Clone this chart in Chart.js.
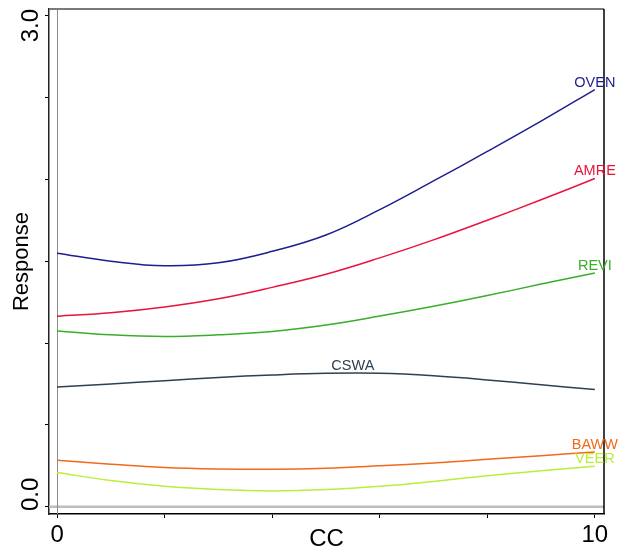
<!DOCTYPE html>
<html lang="en">
<head>
    <meta charset="UTF-8">
    <title>Response vs CC</title>
    <script src="https://cdn.jsdelivr.net/npm/chart.js"></script>
    <style>
        body { margin: 0; background: #fff; }
        #wrap { width: 623px; height: 550px; }
    </style>
</head>
<body>
    <div id="wrap"><canvas id="respChart" width="623" height="550"></canvas></div>
    <script>
        // CC values where each curve was read
        const ccValues = [0, 1, 2, 3, 4, 5, 6, 7, 8, 9, 10];

        // fitted response per species
        const oven = [1.548, 1.50, 1.472, 1.49, 1.56, 1.66, 1.815, 1.99, 2.17, 2.355, 2.548];
        const amre = [1.164, 1.185, 1.22, 1.27, 1.34, 1.42, 1.52, 1.63, 1.75, 1.875, 2.005];
        const revi = [1.074, 1.05, 1.04, 1.05, 1.07, 1.11, 1.165, 1.225, 1.29, 1.36, 1.428];
        const cswa = [0.732, 0.75, 0.77, 0.79, 0.805, 0.815, 0.815, 0.80, 0.775, 0.745, 0.716];
        const baww = [0.284, 0.26, 0.24, 0.231, 0.229, 0.235, 0.25, 0.268, 0.29, 0.312, 0.335];
        const veer = [0.209, 0.16, 0.125, 0.105, 0.097, 0.105, 0.125, 0.155, 0.19, 0.22, 0.247];

        const speciesNames = ['OVEN', 'AMRE', 'REVI', 'CSWA', 'BAWW', 'VEER'];
        const labelAtCC = [10, 10, 10, 5.5, 10, 10];

        // tick positions and the labels that are shown
        const xTicks = [0, 2, 4, 6, 8, 10];
        const xTickLabels = { 0: '0', 10: '10' };
        const yTicks = [0, 0.5, 1, 1.5, 2, 2.5, 3];
        const yTickLabels = { 0: '0.0', 3: '3.0' };

        const colors = ['#1e1e8e', '#e8143c', '#3aad2a', '#2f4050', '#f06a1c', '#b9ee3a'];
        const allSeries = [oven, amre, revi, cswa, baww, veer];

        const FONT = "'Liberation Sans', Arial, sans-serif";

        function interp(xs, ys, x) {
            for (let i = 0; i < xs.length - 1; i++) {
                if (x >= xs[i] && x <= xs[i + 1]) {
                    const t = (x - xs[i]) / (xs[i + 1] - xs[i]);
                    return ys[i] + t * (ys[i + 1] - ys[i]);
                }
            }
            return ys[ys.length - 1];
        }

        // reference lines, frame, y tick labels and curve names
        const decorPlugin = {
            id: 'decor',
            beforeDatasetsDraw(chart) {
                const { ctx, chartArea: a, scales: { x, y } } = chart;
                ctx.save();
                ctx.strokeStyle = '#bdbdbd';
                ctx.lineWidth = 2.5;
                ctx.beginPath();
                ctx.moveTo(a.left, y.getPixelForValue(0));
                ctx.lineTo(a.right, y.getPixelForValue(0));
                ctx.stroke();
                const x0 = Math.round(x.getPixelForValue(0)) + 0.5;
                ctx.strokeStyle = '#8c8c8c';
                ctx.lineWidth = 1;
                ctx.beginPath();
                ctx.moveTo(x0, a.top);
                ctx.lineTo(x0, a.bottom);
                ctx.stroke();
                ctx.restore();
            },
            afterDraw(chart) {
                const { ctx, chartArea: a, scales: { x, y } } = chart;
                ctx.save();
                // top and right frame
                ctx.strokeStyle = '#7a7a7a';
                ctx.lineWidth = 2;
                ctx.beginPath();
                ctx.moveTo(a.left, a.top);
                ctx.lineTo(a.right, a.top);
                ctx.stroke();
                ctx.strokeStyle = '#000';
                ctx.lineWidth = 1.5;
                ctx.beginPath();
                ctx.moveTo(a.right, a.top);
                ctx.lineTo(a.right, a.bottom);
                ctx.stroke();

                // rotated y tick labels, kept inside the plot height
                ctx.font = '24px ' + FONT;
                ctx.fillStyle = '#000';
                ctx.textAlign = 'center';
                ctx.textBaseline = 'middle';
                Object.keys(yTickLabels).forEach(v => {
                    const txt = yTickLabels[v];
                    const half = ctx.measureText(txt).width / 2;
                    let cy = y.getPixelForValue(Number(v));
                    cy = Math.min(Math.max(cy, a.top + half), a.bottom - half - 3);
                    ctx.save();
                    ctx.translate(31, cy);
                    ctx.rotate(-Math.PI / 2);
                    ctx.fillText(txt, 0, 0);
                    ctx.restore();
                });

                // curve names
                ctx.font = '14.5px ' + FONT;
                ctx.textBaseline = 'alphabetic';
                speciesNames.forEach((name, i) => {
                    const cc = labelAtCC[i];
                    const px = x.getPixelForValue(cc);
                    const py = y.getPixelForValue(interp(ccValues, allSeries[i], cc));
                    ctx.fillStyle = colors[i];
                    ctx.fillText(name, px, py - 3);
                });
                ctx.restore();
            }
        };

        const ctx = document.getElementById('respChart').getContext('2d');
        new Chart(ctx, {
            type: 'line',
            data: {
                datasets: allSeries.map((s, i) => ({
                    label: speciesNames[i],
                    data: ccValues.map((c, j) => ({ x: c, y: s[j] })),
                    borderColor: colors[i],
                    borderWidth: 1.5,
                    pointRadius: 0,
                    tension: 0.4,
                    fill: false
                }))
            },
            options: {
                responsive: false,
                animation: false,
                layout: { padding: { top: 9, right: 19, left: 0, bottom: 0 } },
                plugins: {
                    legend: { display: false },
                    tooltip: { enabled: false }
                },
                scales: {
                    x: {
                        type: 'linear',
                        min: -0.15,
                        max: 10.17,
                        afterBuildTicks: s => { s.ticks = xTicks.map(v => ({ value: v })); },
                        afterFit: s => { s.height = 36; },
                        grid: { drawOnChartArea: false, color: '#000', tickLength: 4 },
                        border: { color: '#000', width: 1.5 },
                        ticks: {
                            color: '#000',
                            padding: 5,
                            maxRotation: 0,
                            autoSkip: false,
                            font: { size: 24, family: FONT, lineHeight: 1 },
                            callback: v => xTickLabels[v] || ''
                        },
                        title: {
                            display: true,
                            text: 'CC',
                            color: '#000',
                            padding: 0,
                            font: { size: 24, family: FONT, lineHeight: 0.85 }
                        }
                    },
                    y: {
                        type: 'linear',
                        min: -0.044,
                        max: 3.04,
                        afterBuildTicks: s => { s.ticks = yTicks.map(v => ({ value: v })); },
                        afterFit: s => { s.width = 49; },
                        grid: { drawOnChartArea: false, color: '#000', tickLength: 4 },
                        border: { color: '#222', width: 1.5 },
                        ticks: { display: false },
                        title: {
                            display: true,
                            text: 'Response',
                            color: '#000',
                            padding: { top: 11 },
                            font: { size: 22, family: FONT, lineHeight: 1 }
                        }
                    }
                }
            },
            plugins: [decorPlugin]
        });
    </script>
</body>
</html>
